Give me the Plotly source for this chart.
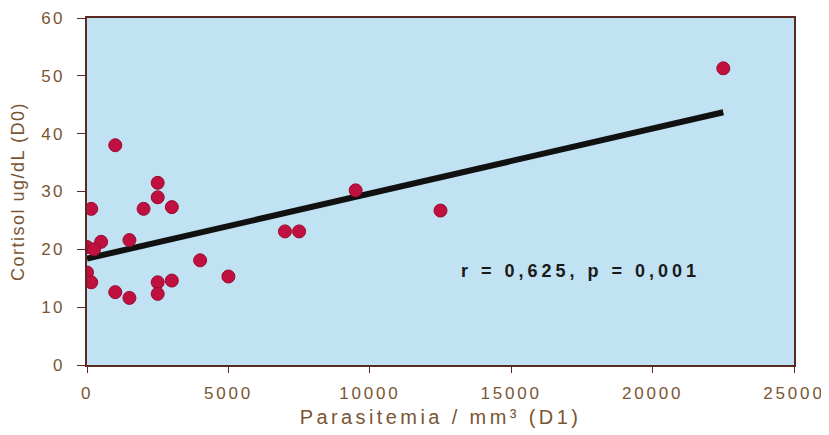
import plotly.graph_objects as go

# Data
parasitemia = [1000, 2500, 2500, 150, 2000, 3000, 500, 1500, 0, 250, 4000, 0, 150,
               5000, 2500, 3000, 1000, 1500, 2500, 9500, 12500, 7000, 7500, 22500]
cortisol = [38.0, 31.5, 29.0, 27.0, 27.0, 27.3, 21.3, 21.6, 20.4, 20.0, 18.1, 16.0, 14.3,
            15.3, 14.3, 14.6, 12.6, 11.6, 12.3, 30.2, 26.7, 23.1, 23.1, 51.3]

trend_x = [0, 22500]
trend_y = [18.4, 43.7]

x_ticks = [0, 5000, 10000, 15000, 20000, 25000]
y_ticks = [0, 10, 20, 30, 40, 50, 60]

annotation_text = "r = 0,625, p = 0,001"
x_title = "Parasitemia / mm³ (D1)"
y_title = "Cortisol ug/dL (D0)"


def spaced(text, px):
    return '<span style="letter-spacing:%spx">%s</span>' % (px, text)


brown = "#7a5533"
axis_col = "#5a2a22"
font_fam = "Liberation Sans, Arial, sans-serif"

fig = go.Figure()
fig.add_trace(go.Scatter(
    x=trend_x, y=trend_y, mode="lines",
    line=dict(color="#111111", width=6), showlegend=False, hoverinfo="skip"))
fig.add_trace(go.Scatter(
    x=parasitemia, y=cortisol, mode="markers",
    marker=dict(color="#c01040", size=13, line=dict(color="#9a0a30", width=1)),
    showlegend=False))

fig.add_annotation(x=13150, y=16.2, xanchor="left", yanchor="middle",
                   text="<b>" + spaced(annotation_text, 4) + "</b>", showarrow=False,
                   font=dict(family=font_fam, size=18, color="#1a1a1a"))

fig.update_layout(
    width=821, height=427,
    margin=dict(l=79, r=35, t=10, b=70, autoexpand=False),
    paper_bgcolor="white",
    plot_bgcolor="#c1e2f2",
    font=dict(family=font_fam, size=17, color=brown),
)
fig.update_xaxes(
    range=[0, 25000], tickvals=x_ticks, ticktext=[spaced(str(v), 2.8) for v in x_ticks],
    showgrid=False, zeroline=False, showline=True, linecolor=axis_col, linewidth=2,
    mirror=True, ticks="outside", ticklen=6, tickcolor=axis_col, ticklabelstandoff=6,
    tickfont=dict(size=17, color=brown), automargin=False,
    title=dict(text=spaced(x_title, 3.4), font=dict(size=20, color=brown), standoff=8),
)
fig.update_yaxes(
    range=[0, 60], tickvals=y_ticks, ticktext=[spaced(str(v), 2.2) for v in y_ticks],
    showgrid=False, zeroline=False, showline=True, linecolor=axis_col, linewidth=2,
    mirror=True, ticks="outside", ticklen=8, tickcolor=axis_col, ticklabelstandoff=9,
    tickfont=dict(size=17, color=brown), automargin=False,
    title=dict(text=spaced(y_title, 1.5), font=dict(size=18, color=brown), standoff=18),
)

fig.write_html("out.html")
